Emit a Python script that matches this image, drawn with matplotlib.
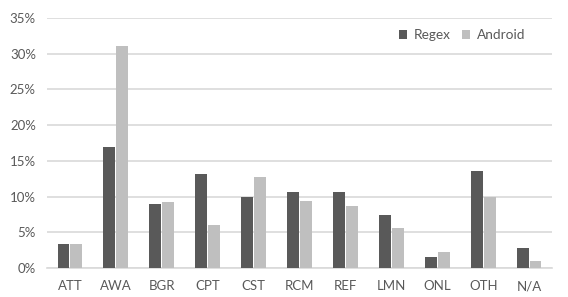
import matplotlib
matplotlib.use("Agg")
import matplotlib.pyplot as plt
import numpy as np
from matplotlib.ticker import PercentFormatter

categories = ["ATT", "AWA", "BGR", "CPT", "CST", "RCM", "REF", "LMN", "ONL", "OTH", "N/A"]
regex = [3.4, 16.9, 9.0, 13.2, 10.0, 10.7, 10.7, 7.4, 1.6, 13.6, 2.8]
android = [3.4, 31.1, 9.2, 6.0, 12.7, 9.4, 8.7, 5.6, 2.3, 9.9, 1.0]

plt.rcParams['font.family'] = ['Lato', 'DejaVu Sans']
text_col = '#595959'

fig = plt.figure(figsize=(5.68, 2.97), dpi=100)
ax = fig.add_axes([47/568, 29/297, (552-47)/568, (268-18)/297])

x = np.arange(len(categories))
w = 0.26
ax.bar(x - w/2 - 0.01, regex, w, color='#595959', label='Regex', zorder=3)
ax.bar(x + w/2 + 0.01, android, w, color='#bfbfbf', label='Android', zorder=3)

ax.set_xlim(-0.5, len(categories) - 0.5)
ax.set_ylim(0, 35)
ax.set_yticks(np.arange(0, 36, 5))
ax.yaxis.set_major_formatter(PercentFormatter(decimals=0))
ax.set_xticks(x)
ax.set_xticklabels(categories)
ax.grid(axis='y', color='#d9d9d9', linewidth=1.2, zorder=0)
for s in ['top', 'right', 'left']:
    ax.spines[s].set_visible(False)
ax.spines['bottom'].set_color('#d9d9d9')
ax.spines['bottom'].set_linewidth(1.2)
ax.tick_params(length=0, colors=text_col, labelsize=9.5)
ax.tick_params(axis='x', pad=9)
ax.tick_params(axis='y', pad=8)

leg = ax.legend(loc='center right', bbox_to_anchor=(0.947, 0.932), ncol=2, frameon=False,
                handlelength=0.6, handleheight=0.6, handletextpad=0.5, columnspacing=0.8,
                fontsize=9.8, borderpad=0, borderaxespad=0)
for t in leg.get_texts():
    t.set_color(text_col)

fig.savefig('out.png', dpi=100)
